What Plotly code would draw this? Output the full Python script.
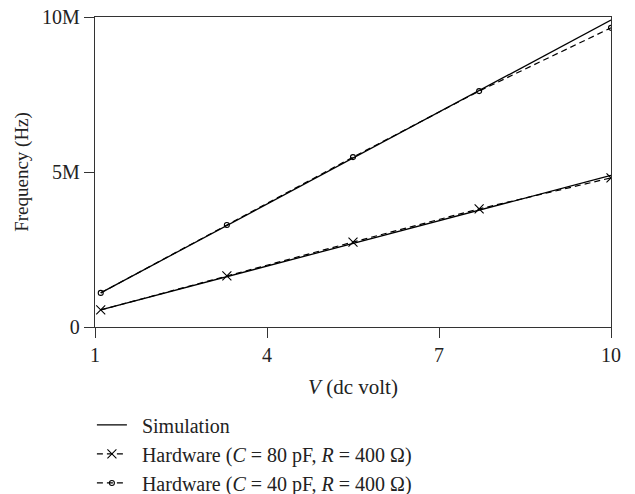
import plotly.graph_objects as go

# Data
v_points = [1.1, 3.3, 5.5, 7.7, 10.0]
sim_40pf = [1.1e6, 3.28e6, 5.45e6, 7.63e6, 9.9e6]
sim_80pf = [0.55e6, 1.62e6, 2.7e6, 3.77e6, 4.89e6]
hw_80pf = [0.55e6, 1.65e6, 2.74e6, 3.81e6, 4.81e6]
hw_40pf = [1.1e6, 3.29e6, 5.48e6, 7.61e6, 9.65e6]

x_ticks = [1, 4, 7, 10]
y_tickvals = [0, 5e6, 10e6]
y_ticktext = ["0", "5M", "10M"]

FONT = "Liberation Serif"
SP = "\u2002"
fig = go.Figure()

fig.add_trace(go.Scatter(x=v_points, y=sim_40pf, mode="lines", name=SP + "Simulation",
                         line=dict(color="black", width=1.3), legendgroup="sim",
                         showlegend=True))
fig.add_trace(go.Scatter(x=v_points, y=sim_80pf, mode="lines", name=SP + "Simulation",
                         line=dict(color="black", width=1.3), legendgroup="sim",
                         showlegend=False))
fig.add_trace(go.Scatter(x=v_points, y=hw_80pf, mode="lines+markers",
                         name=SP + "Hardware (<i>C</i> = 80 pF, <i>R</i> = 400 Ω)",
                         line=dict(color="black", width=1.2, dash="6px,4px"),
                         marker=dict(symbol="x-thin", size=9, line=dict(color="black", width=1.1)),
                         legendgroup="h80"))
fig.add_trace(go.Scatter(x=v_points, y=hw_40pf, mode="lines+markers",
                         name=SP + "Hardware (<i>C</i> = 40 pF, <i>R</i> = 400 Ω)",
                         line=dict(color="black", width=1.2, dash="6px,4px"),
                         marker=dict(symbol="circle-open", size=5, color="black",
                                     line=dict(color="black", width=1.1)),
                         legendgroup="h40"))

fig.update_layout(
    width=635, height=494,
    margin=dict(l=95, r=24, t=17, b=167, autoexpand=False),
    paper_bgcolor="white", plot_bgcolor="white",
    font=dict(family=FONT, size=20, color="#222"),
    showlegend=True,
    legend=dict(x=-0.006, y=-0.253, xanchor="left", yanchor="top",
                font=dict(family=FONT, size=20, color="#222"),
                tracegroupgap=0, bgcolor="rgba(0,0,0,0)"),
    xaxis=dict(range=[1, 10], tickvals=x_ticks, ticks="outside", ticklen=10,
               tickcolor="#333", showline=True, linecolor="#333", linewidth=1.3,
               mirror=True, showgrid=False, zeroline=False, automargin=False,
               tickfont=dict(size=20),
               title=dict(text="<i>V</i> (dc volt)", standoff=14,
                          font=dict(family=FONT, size=21))),
    yaxis=dict(range=[0, 10e6], tickvals=y_tickvals, ticktext=y_ticktext,
               ticks="outside", ticklen=10, tickcolor="#333", showline=True,
               linecolor="#333", linewidth=1.3, mirror=True, showgrid=False,
               zeroline=False, automargin=False, tickfont=dict(size=20),
               title=dict(text="Frequency (Hz)", standoff=8,
                          font=dict(family=FONT, size=19))),
)

fig.write_html("out.html", config={"displayModeBar": False},
               post_script="document.body.style.margin='0';")
